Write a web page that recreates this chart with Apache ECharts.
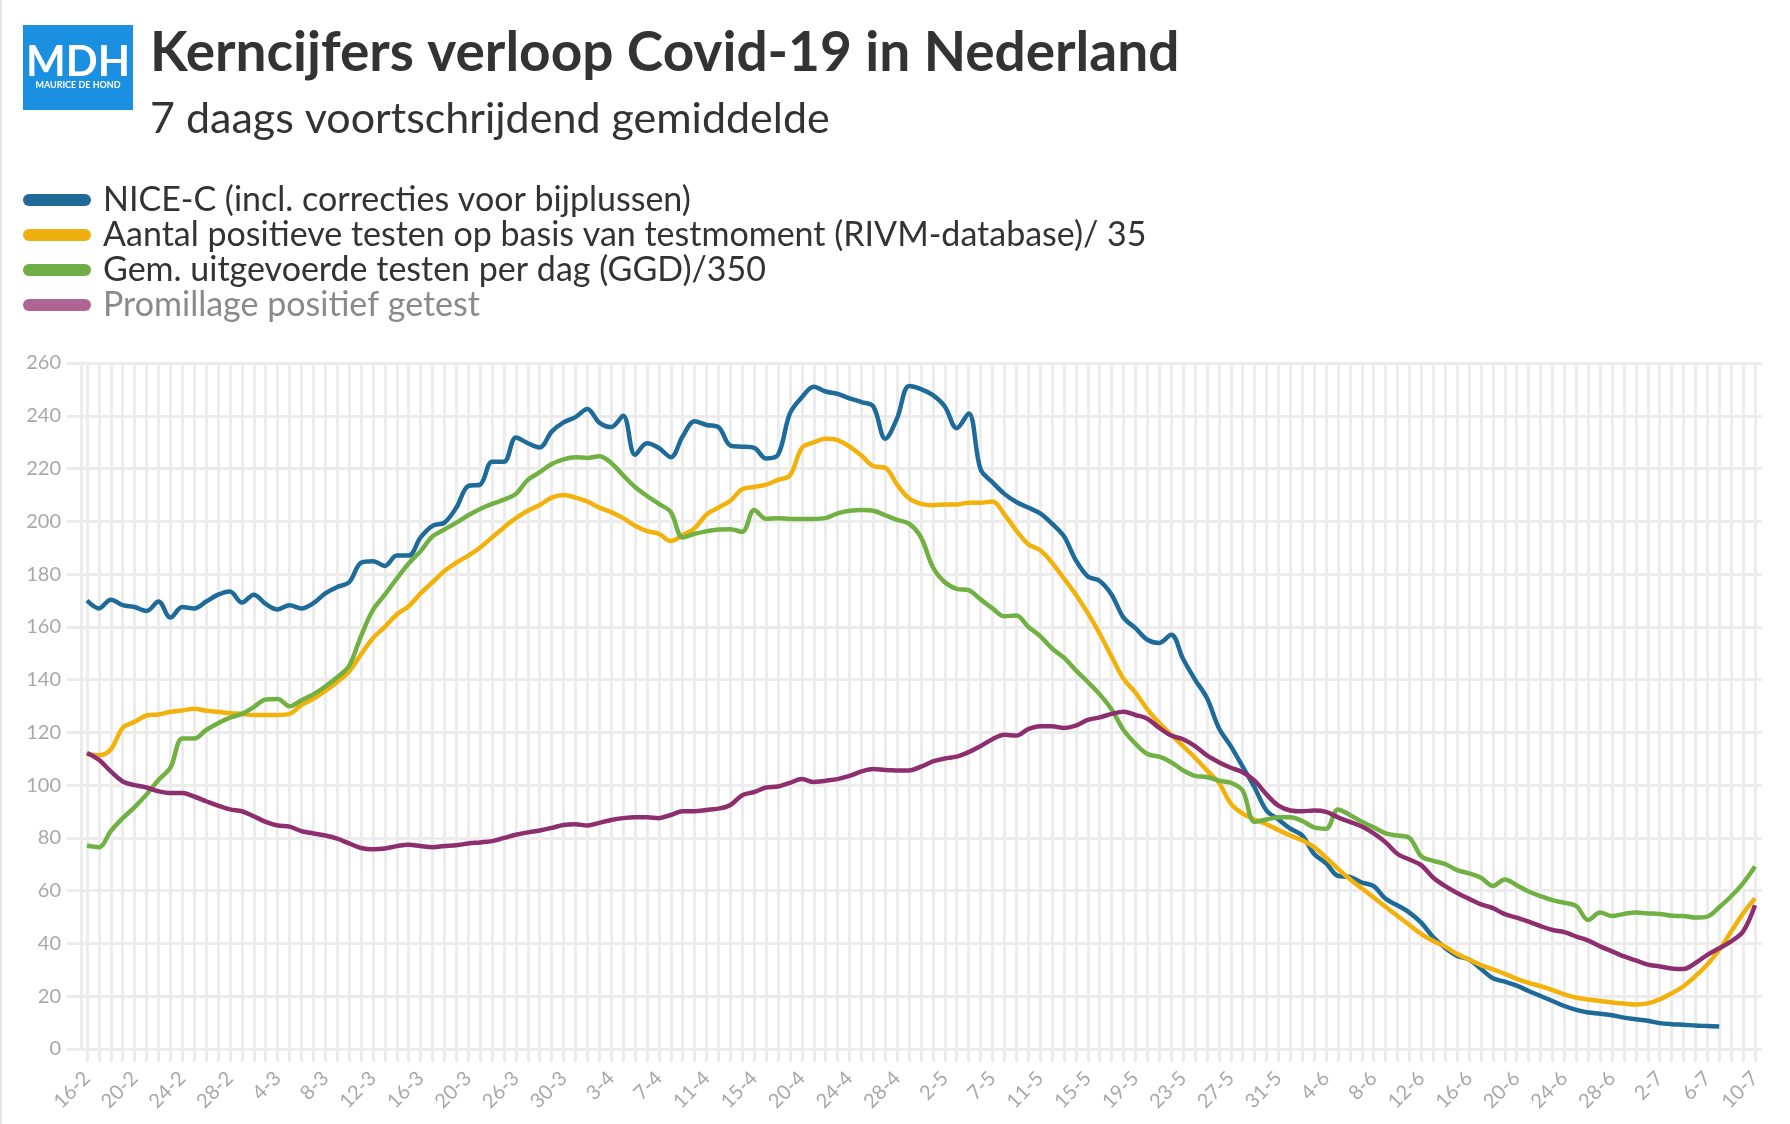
<!DOCTYPE html>
<html>
<head>
<meta charset="utf-8">
<script src="https://cdn.jsdelivr.net/npm/echarts@6/dist/echarts.min.js"></script>
<style>
html,body{margin:0;padding:0;background:#fff;}
#c{width:1790px;height:1124px;position:relative;}
#edge{position:absolute;left:0;top:0;width:2px;height:1124px;background:#e4e4e4;}
</style>
</head>
<body>
<div id="c"></div>
<div id="edge"></div>
<script>
// ---- DATA ----
const categories = [
 '16-2','17-2','18-2','19-2','20-2','21-2','22-2','23-2','24-2','25-2','26-2','27-2','28-2',
 '1-3','2-3','3-3','4-3','5-3','6-3','7-3','8-3','9-3','10-3','11-3','12-3','13-3','14-3','15-3','16-3','17-3','18-3','19-3','20-3','21-3','22-3','24-3','26-3','27-3','28-3','29-3','30-3','31-3',
 '1-4','2-4','3-4','4-4','5-4','6-4','7-4','8-4','9-4','10-4','11-4','12-4','13-4','14-4','15-4','16-4','17-4','19-4','20-4','21-4','22-4','23-4','24-4','25-4','26-4','27-4','28-4','29-4','30-4',
 '1-5','2-5','3-5','4-5','6-5','7-5','8-5','9-5','10-5','11-5','12-5','13-5','14-5','15-5','16-5','17-5','18-5','19-5','20-5','21-5','22-5','23-5','24-5','25-5','26-5','27-5','28-5','29-5','30-5','31-5',
 '1-6','2-6','3-6','4-6','5-6','6-6','7-6','8-6','9-6','10-6','11-6','12-6','13-6','14-6','15-6','16-6','17-6','18-6','19-6','20-6','21-6','22-6','23-6','24-6','25-6','26-6','27-6','28-6','29-6','30-6',
 '1-7','2-7','3-7','4-7','5-7','6-7','7-7','8-7','9-7','10-7'
];

const niceC = [
 170,167,170.3,168.2,167.5,166,169.6,163.5,167.5,167,169.6,172.2,173.4,169.2,172.2,168.7,166.6,168.2,167,169,
 172.7,175.1,176.9,184.3,184.9,183.1,187,187,193.9,198.3,199.5,205.2,213.4,213.9,222.6,222.6,231.8,229.6,228,234,
 237.5,239.5,242.6,237.4,235.7,240,225.2,229.6,227.8,224.3,232.2,237.9,236.5,235.7,228.7,228.3,227.8,223.8,225.2,240.9,
 247,251,249.2,248.3,246.6,245.2,243.5,231.3,239.1,251.3,250.1,247.8,243.5,235.3,240.9,219.7,214.8,210.4,207.3,205.2,
 203,199.1,194.3,185.2,179.1,177.4,172.2,163.5,159.5,155.1,153.9,157,147.8,140,133,121.7,114.8,107,99.1,90.4,
 87,83.5,80.9,73.9,70.4,65.6,65.2,63.1,61.7,56.9,54.4,51.7,47.8,42.3,38.3,35.3,33.9,30.4,26.8,25.5,
 24,22,20.1,18.2,16.3,14.8,13.8,13.4,12.8,11.9,11.3,10.7,9.8,9.4,9.2,8.9,8.7,8.5
];

const positief = [
 111.8,111.3,113.6,121.7,124,126.4,126.8,127.8,128.3,129,128.2,127.8,127.3,127,126.6,126.6,126.6,127,130.4,132.7,
 135.7,139.1,143.1,149.6,155.7,160,164.7,167.8,172.7,176.9,181.2,184.3,187,190.1,193.9,197.7,201.2,204,206.2,209,
 210,209,207.5,205.2,203.5,201.2,198.3,196.3,195.3,192.5,194.8,197.4,202.6,205.2,207.8,212.2,213,213.9,215.7,217.4,
 227.8,229.9,231.3,230.8,228.3,224.9,220.9,220.3,213.9,208.7,206.6,206.1,206.4,206.4,207,207,207.5,202.6,196.5,191.3,
 189,184.3,178.3,172.2,165.2,157.4,148.7,140.3,135.1,128.7,123.5,119.1,114.8,110.4,105.6,100.9,93,89.2,87,85.2,
 83,80.9,79.1,76.5,72.5,68.3,64.3,60.9,57.4,53.9,50.4,47,43.5,40.9,38.8,36,33.9,31.8,30.2,28.5,
 26.6,25.1,23.8,22.3,20.7,19.4,18.8,18.2,17.6,17.2,16.9,17.3,18.8,21.1,23.8,27.6,32,37.6,44.5,51.4,57.1
];

const testen = [
 77,76.5,82.6,87.5,91.7,96.5,102,106.6,117.7,117.7,120.9,123.5,125.6,127,129.6,132.5,132.7,129.9,132.2,134.4,
 137.4,140.9,145.2,156.5,166.4,172.2,178.3,184,188.7,194.3,196.9,199.5,202.3,204.7,206.6,208.2,210.4,215.7,218.6,221.7,
 223.5,224.3,224,224.7,222.1,217.4,213,209.6,206.6,203.5,193.9,195.3,196.2,196.9,197,196,204.3,200.9,201.2,200.9,
 200.9,200.9,201.2,203,204,204.3,204,202.3,200.5,199.1,193.9,182.6,176.9,174.4,173.9,170.4,167,164,164.3,160,
 156.5,151.8,148.3,143.5,139.1,134.4,128.7,120.9,115.7,111.8,110.8,108.7,105.6,103.5,103.1,101.7,100.9,97.9,86.1,87,
 87.8,87.8,86.4,84,83.5,90.8,88.7,86.1,84,81.7,80.9,80,73,71.3,70.1,67.8,66.6,64.9,61.8,64.2,
 62.1,59.7,57.9,56.4,55.4,54.2,48.9,51.7,50.4,51.2,51.7,51.4,51.2,50.5,50.4,49.8,50.2,53.7,57.9,62.9,69.2
];

const promillage = [
 112.2,109.6,105.2,101.4,100,99.1,97.7,97,97,95.7,93.9,92.2,90.8,90.1,88.2,86.1,84.7,84.3,82.6,81.7,
 80.9,79.7,77.9,76.2,75.7,76,76.9,77.4,76.9,76.5,76.9,77.2,77.9,78.3,78.8,80,81.2,82.1,82.8,83.8,
 84.9,85.2,84.7,85.7,86.8,87.5,87.8,87.8,87.5,88.7,90.1,90.1,90.6,91.1,92.5,96.2,97.4,99.1,99.5,100.9,
 102.3,101.2,101.7,102.3,103.5,105.2,106.1,105.7,105.6,105.6,107,109,110.1,110.8,112.5,114.8,117.4,119.1,118.8,121.2,
 122.3,122.3,121.7,122.6,124.7,125.7,127,127.8,126.6,125.2,121.7,118.8,117.4,114.8,111.3,108.7,106.6,104.9,101.7,96.5,
 92.2,90.4,90.1,90.4,89.9,87.8,86.1,84.3,81.7,78.3,73.9,71.8,69.6,64.9,61.7,59.1,56.9,54.8,53.4,51.1,
 49.8,48.3,46.6,45.1,44.3,42.6,41.1,38.9,37,35.1,33.6,32,31.3,30.5,30.3,32.6,35.7,38.2,40.8,44.5,54.5
];

const seriesNames = [
 'NICE-C (incl. correcties voor bijplussen)',
 'Aantal positieve testen op basis van testmoment (RIVM-database)/ 35',
 'Gem. uitgevoerde testen per dag (GGD)/350',
 'Promillage positief getest'
];
const yTicks = {min: 0, max: 260, interval: 20};

// ---- STYLE ----
const FONT = 'Lato, "Noto Sans", sans-serif';
const GRID = '#ececec';
const lineColors = ['#1e6b99', '#f2b10b', '#71b043', '#8d2f6e'];
const legendColors = ['#1f6a96', '#efaf0e', '#6fae46', '#b06494'];
const PILL = 'path://M6,0 L62,0 A6,6 0 0 1 62,12 L6,12 A6,6 0 0 1 6,0 Z';

const chart = echarts.init(document.getElementById('c'), null, {renderer: 'canvas'});
const dataSets = [niceC, positief, testen, promillage];

const option = {
  animation: false,
  backgroundColor: '#ffffff',
  textStyle: {fontFamily: FONT},
  graphic: [
    {type: 'rect', left: 23, top: 25, shape: {width: 110, height: 85}, style: {fill: '#1b8fe0'}},
    {type: 'text', x: 78, y: 62, style: {text: 'MDH', fill: '#ffffff', font: 'bold 42px Lato, sans-serif', align: 'center', verticalAlign: 'middle', textAlign: 'center', textVerticalAlign: 'middle'}},
    {type: 'text', x: 78, y: 85, style: {text: 'MAURICE DE HOND', fill: '#ffffff', font: 'bold 9px Lato, sans-serif', align: 'center', verticalAlign: 'middle', textAlign: 'center', textVerticalAlign: 'middle'}},
    {type: 'text', x: 150, y: 53, style: {text: 'Kerncijfers verloop Covid-19 in Nederland', fill: '#333333', font: 'bold 55px Lato, sans-serif', align: 'left', verticalAlign: 'middle', textAlign: 'left', textVerticalAlign: 'middle'}},
    {type: 'text', x: 150, y: 119, style: {text: '7 daags voortschrijdend gemiddelde', fill: '#333333', font: '43px Lato, sans-serif', align: 'left', verticalAlign: 'middle', textAlign: 'left', textVerticalAlign: 'middle'}}
  ],
  legend: {
    orient: 'vertical',
    left: 23,
    top: 183,
    padding: 0,
    itemWidth: 68,
    itemHeight: 12,
    itemGap: 1,
    selectedMode: false,
    textStyle: {fontSize: 34, lineHeight: 32, color: '#333333', fontFamily: FONT, padding: [0, 0, 0, 7]},
    data: seriesNames.map((n, k) => ({
      name: n,
      icon: PILL,
      itemStyle: {color: legendColors[k]},
      textStyle: k === 3 ? {color: '#8a8a8a'} : {color: '#333333'}
    }))
  },
  grid: [
    {left: 67, right: 28, top: 363, height: 686},
    {left: 87, right: 35, top: 363, height: 686}
  ],
  xAxis: [
    {gridIndex: 0, type: 'value', show: false, min: 0, max: 1},
    {
      gridIndex: 1, type: 'category', data: categories, boundaryGap: false,
      axisLine: {show: false},
      axisTick: {show: true, interval: 0, length: 13, lineStyle: {color: GRID, width: 3}},
      axisLabel: {interval: 3, rotate: 45, color: '#a8a8a8', fontSize: 20, margin: 26, fontFamily: FONT},
      splitLine: {show: true, interval: 0, lineStyle: {color: GRID, width: 3}}
    }
  ],
  yAxis: [
    {
      gridIndex: 0, type: 'value', min: yTicks.min, max: yTicks.max, interval: yTicks.interval,
      axisLine: {show: false}, axisTick: {show: false},
      axisLabel: {color: '#a8a8a8', fontSize: 20, margin: 6, fontFamily: FONT},
      splitLine: {show: true, lineStyle: {color: GRID, width: 3}}
    },
    {
      gridIndex: 1, type: 'value', min: yTicks.min, max: yTicks.max, interval: yTicks.interval,
      offset: 6,
      axisLine: {show: true, onZero: false, lineStyle: {color: GRID, width: 3}},
      axisTick: {show: false}, axisLabel: {show: false}, splitLine: {show: false}
    }
  ],
  series: dataSets.map((d, k) => ({
    name: seriesNames[k],
    type: 'line',
    xAxisIndex: 1,
    yAxisIndex: 1,
    data: d,
    smooth: 0.35,
    showSymbol: false,
    symbol: 'none',
    lineStyle: {width: 4.5, color: lineColors[k]},
    itemStyle: {color: lineColors[k]},
    z: 3 + k
  }))
};
chart.setOption(option);
</script>
</body>
</html>
